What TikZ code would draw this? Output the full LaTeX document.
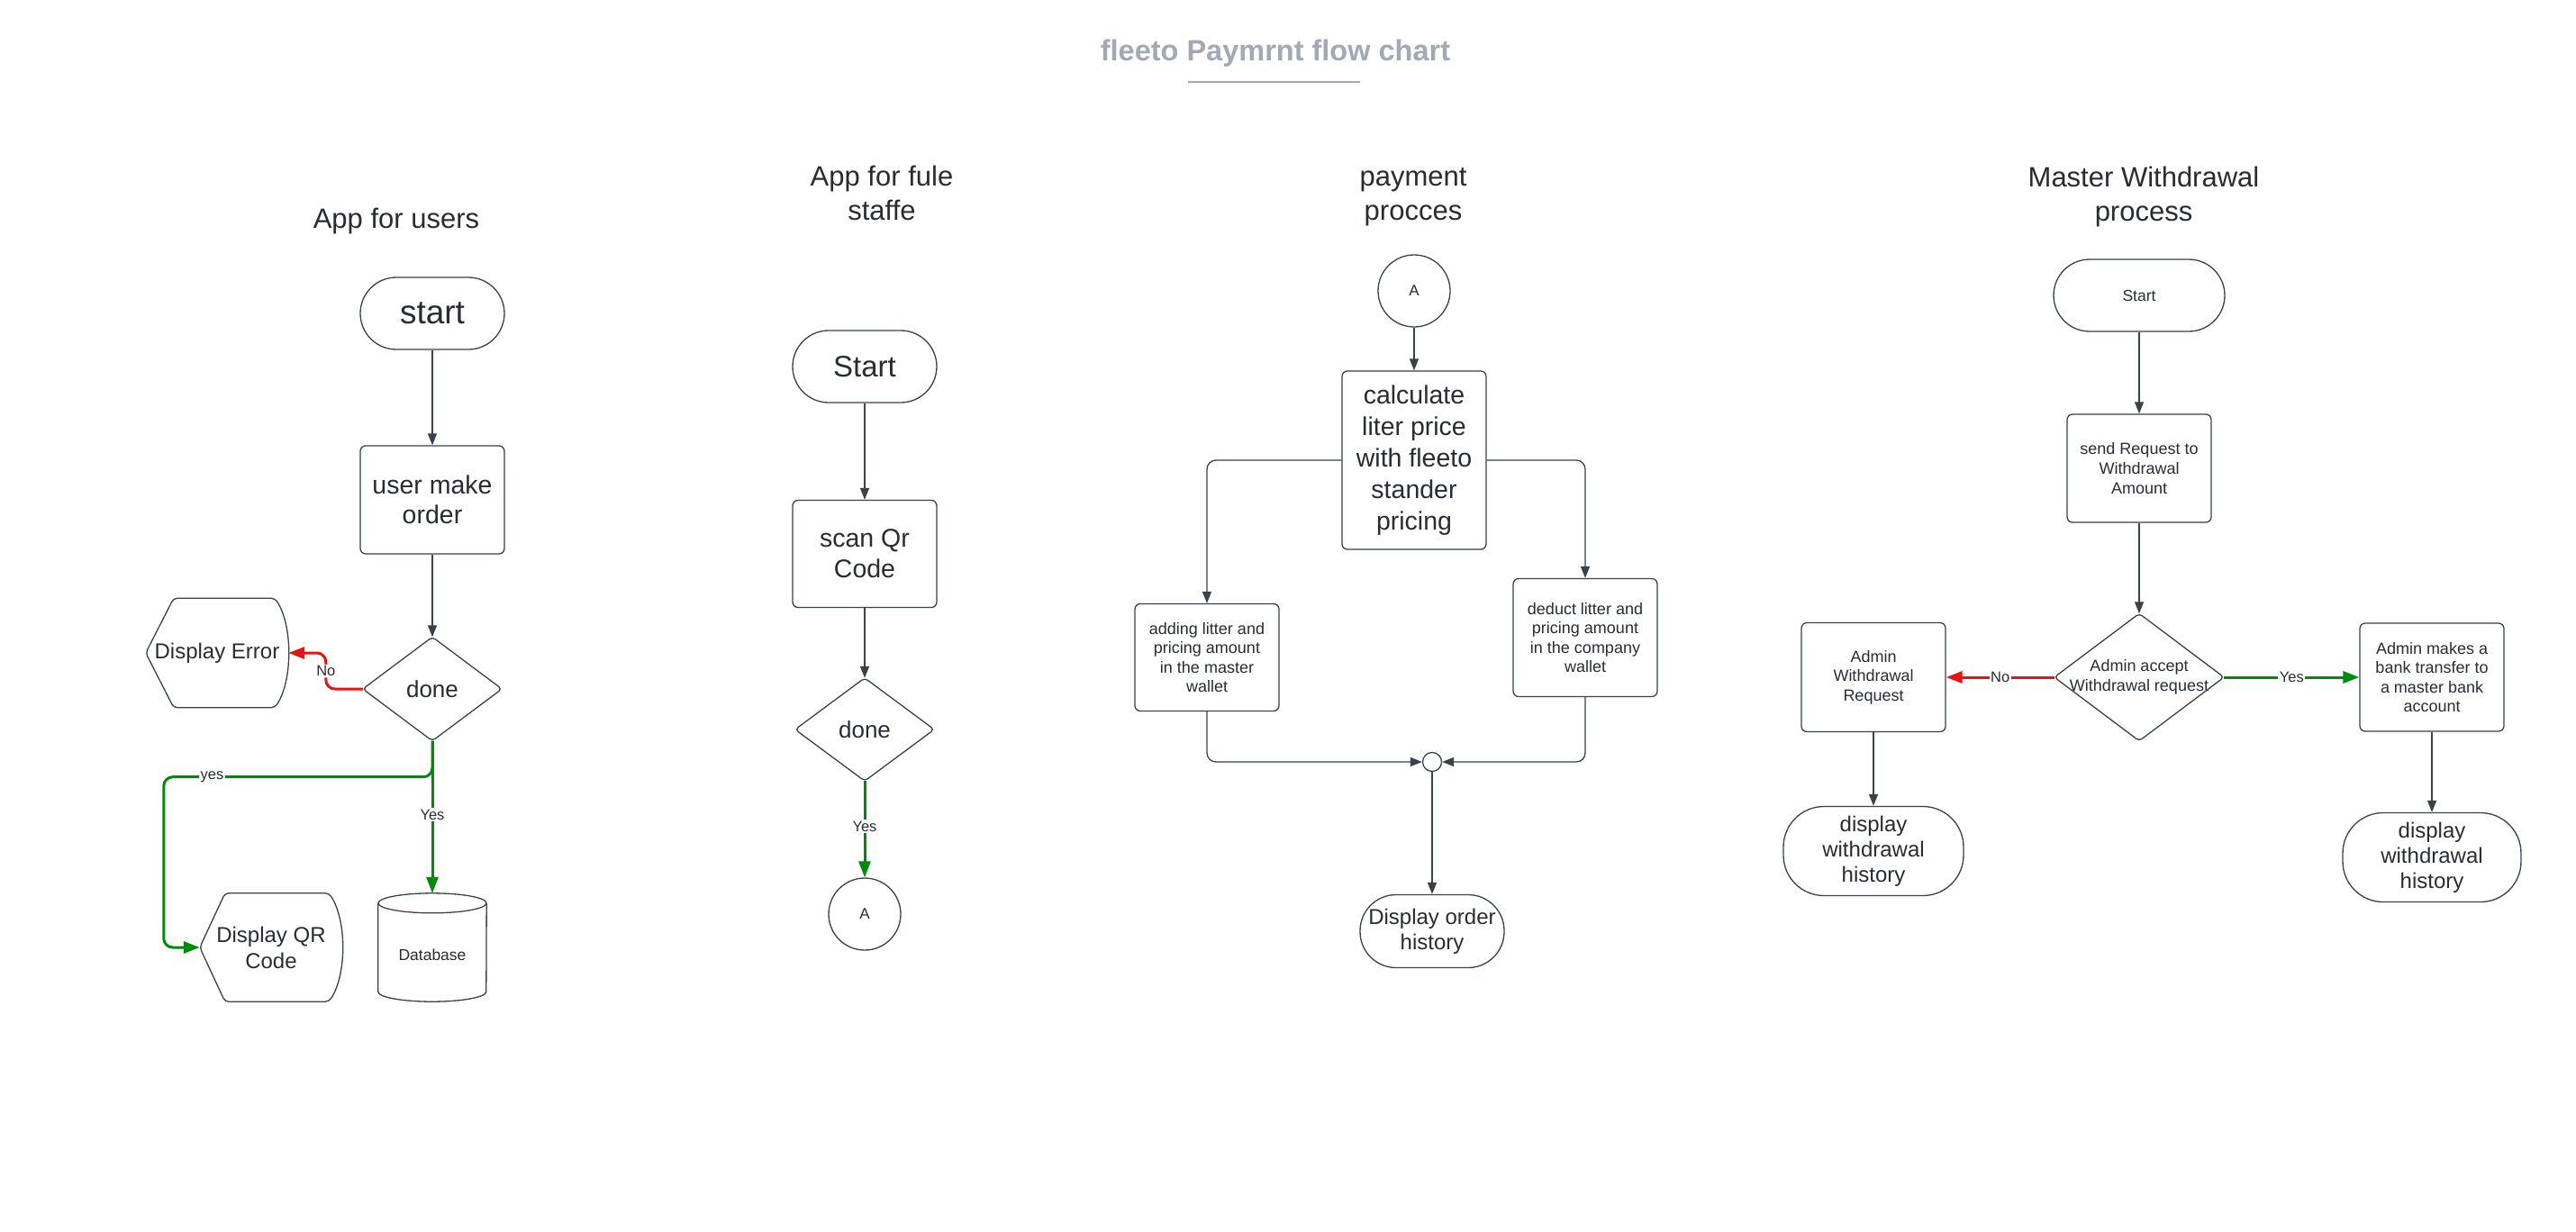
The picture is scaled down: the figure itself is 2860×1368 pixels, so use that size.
\documentclass[tikz,border=0pt]{standalone}
\usepackage{fontspec}
\setmainfont{Liberation Sans}
\usetikzlibrary{arrows.meta,calc}
\definecolor{ln}{HTML}{3A414A}
\definecolor{tx}{HTML}{282C33}
\definecolor{gr}{HTML}{008A0E}
\definecolor{rd}{HTML}{E81313}
\definecolor{ttlc}{HTML}{A3A9B3}
\newcommand\myfs[2]{\fontsize{#1}{#2}\selectfont}
\begin{document}
\begin{tikzpicture}[x=1pt,y=-1pt,
  every node/.style={text=tx},
  proc/.style={draw=ln, line width=1.3pt, rounded corners=6pt, inner sep=0pt, align=center},
  term/.style={draw=ln, line width=1.3pt, inner sep=0pt, align=center, rounded corners=#1},
  term/.default=40pt,
  shp/.style={inner sep=0pt, align=center},
  conn/.style={draw=ln, circle, line width=1.3pt, inner sep=0pt, minimum size=80pt, font=\myfs{17}{20}},
  ttl/.style={align=center, font=\myfs{31}{38}},
  outl/.style={draw=ln, line width=1.3pt},
  arr/.style={draw=ln, line width=1.3pt, -{Triangle[length=13pt,width=10pt]}},
  yesarr/.style={draw=gr, line width=3pt, -{Triangle[length=18pt,width=13pt]}},
  noarr/.style={draw=rd, line width=3pt, -{Triangle[length=18pt,width=13pt]}},
  lbl/.style={fill=white, inner sep=1.5pt, font=\myfs{16.5}{19}}
]
\fill[white] (0,0) rectangle (2860,1368);
\useasboundingbox (0,0) rectangle (2860,1368);

% title
\node[font=\bfseries\myfs{32.5}{38}, text=ttlc] (title) at (1416,59) {fleeto Paymrnt flow chart};
\draw[ttlc, line width=2.5pt] (1319,91) -- (1510,91);

% ---------- column 1 ----------
\node[ttl] (t1) at (440,245) {App for users};
\node[term, minimum width=160pt, minimum height=80pt, font=\myfs{37}{44}] (s1) at (480,348) {start};
\node[proc, minimum width=160pt, minimum height=120pt, font=\myfs{28.5}{33}] (o1) at (480,555) {user make\\order};
\node[shp, minimum width=154pt, minimum height=115pt, font=\myfs{26}{30}] (d1) at (480,765) {done};
\node[shp, minimum width=158pt, minimum height=121pt, font=\myfs{24}{29}] (err) at (241,725) {Display Error};
\node[shp, minimum width=158pt, minimum height=120pt, font=\myfs{24}{29}] (qr) at (301,1052) {Display QR\\Code};
\node[shp, minimum width=120pt, minimum height=120pt] (db) at (480,1052) {};
\node[font=\myfs{17.5}{20}] (dbt) at (480,1060) {Database};

% ---------- column 2 ----------
\node[ttl] (t2) at (979,214) {App for fule\\staffe};
\node[term, minimum width=160pt, minimum height=80pt, font=\myfs{33}{40}] (s2) at (960,407) {Start};
\node[proc, minimum width=160pt, minimum height=119pt, font=\myfs{28.5}{34}] (q2) at (960,615) {scan Qr\\Code};
\node[shp, minimum width=154pt, minimum height=114pt, font=\myfs{26}{30}] (d2) at (960,810) {done};
\node[conn] (a2) at (960,1015) {A};

% ---------- column 3 ----------
\node[ttl] (t3) at (1569,219) {payment\\procces};
\node[conn] (a3) at (1570,323) {A};
\node[proc, minimum width=160pt, minimum height=198pt, font=\myfs{28.5}{35}] (c3) at (1570,511) {calculate\\liter price\\with fleeto\\stander\\pricing};
\node[proc, minimum width=160pt, minimum height=119pt, font=\myfs{18}{21.5}] (ad3) at (1340,730) {adding litter and\\pricing amount\\in the master\\wallet};
\node[proc, minimum width=160pt, minimum height=131pt, font=\myfs{18}{21.5}] (de3) at (1760,708) {deduct litter and\\pricing amount\\in the company\\wallet};
\node[draw=ln, circle, line width=1.3pt, inner sep=0pt, minimum size=21pt] (jn) at (1590,846) {};
\node[term, minimum width=160pt, minimum height=81pt, font=\myfs{24}{28}] (h3) at (1590,1034) {Display order\\history};

% ---------- column 4 ----------
\node[ttl] (t4) at (2380,218) {Master Withdrawal\\process};
\node[term, minimum width=190pt, minimum height=80pt, font=\myfs{17.5}{21}] (s4) at (2375,328) {Start};
\node[proc, minimum width=160pt, minimum height=120pt, font=\myfs{18}{21.7}] (r4) at (2375,520) {send Request to\\Withdrawal\\Amount};
\node[shp, minimum width=188pt, minimum height=141pt, font=\myfs{18}{21.7}] (d4) at (2375,752) {Admin accept\\Withdrawal request};
\node[proc, minimum width=160pt, minimum height=121pt, font=\myfs{18}{21.5}] (w4) at (2080,752) {Admin\\Withdrawal\\Request};
\node[proc, minimum width=160pt, minimum height=120pt, font=\myfs{18}{21.5}] (b4) at (2700,752) {Admin makes a\\bank transfer to\\a master bank\\account};
\node[term=45pt, minimum width=200pt, minimum height=99pt, font=\myfs{24}{28}] (hl4) at (2080,945) {display\\withdrawal\\history};
\node[term=45pt, minimum width=198pt, minimum height=99pt, font=\myfs{24}{28}] (hr4) at (2700,952) {display\\withdrawal\\history};

% ---------- shape outlines ----------
\foreach \n in {d1,d2,d4}
  \draw[outl, rounded corners=4pt] (\n.north) -- (\n.east) -- (\n.south) -- (\n.west) -- cycle;
\foreach \n/\a in {err/31,qr/28}
  \draw[outl, rounded corners=4pt] (\n.west) -- ($(\n.north west)+(\a,0)$) -- ($(\n.north east)+(-15,0)$)
    .. controls ($(\n.north east)+(5,30)$) and ($(\n.south east)+(5,-30)$) .. ($(\n.south east)+(-15,0)$)
    -- ($(\n.south west)+(\a,0)$) -- cycle;
\draw[outl] ($(db.north)+(0,11)$) ellipse [x radius=60, y radius=11];
\draw[outl] ($(db.north west)+(0,11)$) -- ($(db.south west)+(0,-11)$)
  arc[start angle=180, end angle=0, x radius=60, y radius=11] -- ($(db.north east)+(0,11)$);

% ---------- connectors column 1 ----------
\draw[arr] (s1.south) -- (o1.north);
\draw[arr] (o1.south) -- (d1.north);
\draw[noarr, rounded corners=10pt] (d1.west) -- ++(-41,0) |- node[lbl, pos=0.25] {No} (err.east);
\draw[yesarr] (d1.south) -- node[lbl, pos=0.485] {Yes} (db.north);
\draw[yesarr, rounded corners=10pt] (d1.south) -- ++(0,40) -| node[lbl, pos=0.41] {yes} ($(qr.west)+(-40,0)$) -- (qr.west);

% ---------- connectors column 2 ----------
\draw[arr] (s2.south) -- (q2.north);
\draw[arr] (q2.south) -- (d2.north);
\draw[yesarr] (d2.south) -- node[lbl, pos=0.47] {Yes} (a2.north);

% ---------- connectors column 3 ----------
\draw[arr] (a3.south) -- (c3.north);
\draw[arr, rounded corners=10pt] (c3.west) -| (ad3.north);
\draw[arr, rounded corners=10pt] (c3.east) -| (de3.north);
\draw[arr, rounded corners=10pt] (ad3.south) |- (jn.west);
\draw[arr, rounded corners=10pt] (de3.south) |- (jn.east);
\draw[arr] (jn.south) -- (h3.north);

% ---------- connectors column 4 ----------
\draw[arr] (s4.south) -- (r4.north);
\draw[arr] (r4.south) -- (d4.north);
\draw[noarr] (d4.west) -- node[lbl] {No} (w4.east);
\draw[yesarr] (d4.east) -- node[lbl] {Yes} (b4.west);
\draw[arr] (w4.south) -- (hl4.north);
\draw[arr] (b4.south) -- (hr4.north);
\end{tikzpicture}
\end{document}
